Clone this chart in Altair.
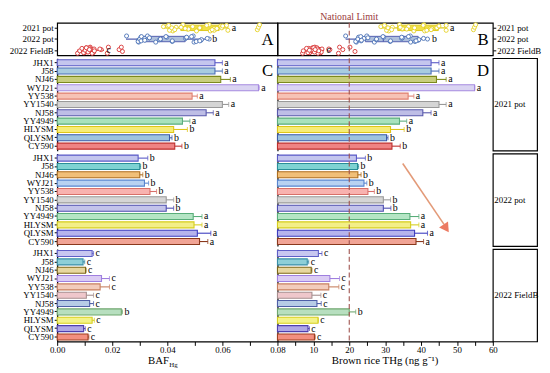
import altair as alt
import pandas as pd

FONT = "Liberation Serif"

cultivars = ["JHX1", "J58", "NJ46", "WYJ21", "YY538", "YY1540", "NJ58", "YY4949", "HLYSM", "QLYSM", "CY590"]
groups = ["2021 pot", "2022 pot", "2022 FieldB"]

# ---- BAF_Hg (panel C): means, mean+SE, letters ----
baf_2021_mean = [0.0573, 0.0573, 0.0594, 0.0731, 0.0490, 0.0600, 0.0541, 0.0455, 0.0423, 0.0408, 0.0427]
baf_2021_top = [0.0600, 0.0600, 0.0629, 0.0734, 0.0509, 0.0623, 0.0567, 0.0482, 0.0473, 0.0417, 0.0453]
baf_2021_sig = ["a", "a", "a", "a", "a", "a", "a", "a", "b", "b", "b"]
baf_2022_mean = [0.0294, 0.0300, 0.0300, 0.0317, 0.0337, 0.0396, 0.0396, 0.0494, 0.0497, 0.0509, 0.0517]
baf_2022_top = [0.0329, 0.0303, 0.0311, 0.0332, 0.0361, 0.0423, 0.0423, 0.0526, 0.0526, 0.0558, 0.0547]
baf_2022_sig = ["b", "b", "b", "b", "b", "b", "b", "a", "a", "a", "a"]
baf_field_mean = [0.0127, 0.0094, 0.0103, 0.0161, 0.0156, 0.0106, 0.0118, 0.0233, 0.0127, 0.0096, 0.0112]
baf_field_top = [0.0132, 0.0100, 0.0105, 0.0190, 0.0190, 0.0132, 0.0132, 0.0237, 0.0135, 0.0102, 0.0115]
baf_field_sig = ["c", "c", "c", "c", "c", "c", "c", "b", "c", "c", "c"]

# ---- Brown rice THg (panel D) ----
thg_2021_mean = [42.8, 42.8, 44.3, 54.9, 36.4, 45.0, 40.5, 34.0, 31.5, 30.4, 31.9]
thg_2021_top = [45.0, 45.0, 47.0, 55.0, 38.0, 47.0, 42.8, 36.0, 35.3, 30.8, 34.2]
thg_2021_sig = ["a", "a", "a", "a", "a", "a", "a", "a", "b", "b", "b"]
thg_2022_mean = [22.0, 22.3, 22.4, 24.1, 25.2, 29.5, 29.5, 36.9, 37.1, 38.2, 38.6]
thg_2022_top = [24.5, 22.6, 23.3, 24.9, 27.0, 31.5, 31.6, 39.4, 39.4, 41.8, 40.7]
thg_2022_sig = ["b", "b", "b", "b", "b", "b", "b", "a", "a", "a", "a"]
thg_field_mean = [11.4, 8.3, 9.4, 14.6, 14.3, 9.6, 11.0, 20.0, 11.3, 8.5, 10.3]
thg_field_top = [12.4, 8.7, 9.6, 17.3, 17.1, 12.1, 12.2, 21.8, 11.4, 8.9, 10.5]
thg_field_sig = ["c", "c", "c", "c", "c", "c", "c", "b", "c", "c", "c"]

# ---- individual replicate values (panels A, B) ----
baf_pts_2021 = [0.0552, 0.0575, 0.0592, 0.0556, 0.0570, 0.0594, 0.0570, 0.0598, 0.0615, 0.0727, 0.0731,
                0.0735, 0.0473, 0.0492, 0.0506, 0.0580, 0.0601, 0.0620, 0.0518, 0.0543, 0.0563, 0.0432,
                0.0457, 0.0477, 0.0386, 0.0420, 0.0465, 0.0400, 0.0408, 0.0416, 0.0405, 0.0427, 0.0450]
baf_pts_2022 = [0.0252, 0.0295, 0.0335, 0.0296, 0.0300, 0.0304, 0.0294, 0.0300, 0.0306, 0.0305, 0.0318,
                0.0328, 0.0318, 0.0335, 0.0358, 0.0372, 0.0398, 0.0418, 0.0375, 0.0395, 0.0418, 0.0466,
                0.0494, 0.0522, 0.0470, 0.0497, 0.0524, 0.0470, 0.0505, 0.0552, 0.0488, 0.0518, 0.0545]
baf_pts_field = [0.0120, 0.0127, 0.0134, 0.0074, 0.0094, 0.0108, 0.0100, 0.0103, 0.0106, 0.0132, 0.0160,
                 0.0186, 0.0128, 0.0155, 0.0182, 0.0082, 0.0105, 0.0130, 0.0105, 0.0118, 0.0131, 0.0225,
                 0.0233, 0.0237, 0.0119, 0.0127, 0.0135, 0.0090, 0.0096, 0.0102, 0.0106, 0.0112, 0.0117]
thg_pts_2021 = [40.8, 42.9, 44.8, 41.0, 42.6, 44.9, 41.6, 44.4, 47.0, 54.6, 54.9, 55.2, 34.8, 36.5, 38.0,
                43.0, 45.0, 47.0, 38.2, 40.6, 42.8, 32.0, 34.0, 36.0, 28.8, 31.0, 34.8, 30.0, 30.4, 30.8,
                29.8, 31.8, 34.2]
thg_pts_2022 = [19.0, 22.2, 24.6, 22.0, 22.3, 22.6, 21.8, 22.4, 23.2, 23.3, 24.1, 24.9, 23.4, 25.2, 27.0,
                27.5, 29.6, 31.4, 27.6, 29.4, 31.5, 34.6, 37.0, 39.2, 34.8, 37.1, 39.4, 34.6, 38.3, 41.8,
                36.5, 38.6, 40.7]
thg_pts_field = [10.4, 11.4, 12.4, 7.0, 8.4, 8.7, 9.0, 9.4, 9.8, 12.0, 14.6, 17.3, 11.6, 14.3, 17.0,
                 7.2, 9.6, 12.0, 9.8, 11.0, 12.2, 18.2, 20.2, 21.6, 11.1, 11.3, 11.5, 8.1, 8.5, 8.9,
                 10.1, 10.3, 10.5]

baf_box_lo = [0.0386, 0.0250, 0.0072]
baf_box_q1 = [0.0449, 0.0315, 0.0095]
baf_box_med = [0.0525, 0.0380, 0.0112]
baf_box_q3 = [0.0588, 0.0465, 0.0133]
baf_box_hi = [0.0622, 0.0552, 0.0170]
baf_box_sig_x = [0.0630, 0.0560, 0.0176]
thg_box_lo = [28.8, 19.0, 7.0]
thg_box_q1 = [33.5, 24.5, 9.0]
thg_box_med = [41.0, 29.5, 10.6]
thg_box_q3 = [44.8, 39.2, 12.3]
thg_box_hi = [47.2, 42.0, 13.0]
thg_box_sig_x = [47.8, 42.8, 13.4]
box_sig = ["a", "b", "c"]
national_limit = [20]

baf_ticks = [0.0, 0.01, 0.02, 0.03, 0.04, 0.05, 0.06, 0.07, 0.08]
thg_ticks = [5, 10, 15, 20, 25, 30, 35, 40, 45, 50, 55, 60]

# ---- colours ----
fill_2021 = ["#C4C6EE", "#A8CCE0", "#C8CE7C", "#DAD4F2", "#F7C2B5", "#D5D5D5", "#BEBEE6", "#A8E2BD", "#F6ED78", "#9DC3DE", "#EF8383"]
line_2021 = ["#5858C6", "#4A6EB8", "#7C8A1C", "#A68AE0", "#DF7F6F", "#999999", "#5858AC", "#5BAD7D", "#DEC618", "#3A5AA8", "#BE2E2C"]
fill_2022 = ["#C4C6EE", "#7ED2D2", "#F1BF78", "#B8D2F2", "#F8B2AF", "#D5D5D5", "#C3C3EA", "#B4E5C4", "#F3EF88", "#B6B4EC", "#F1A495"]
line_2022 = ["#5858C6", "#288E98", "#AE6E1E", "#5885CF", "#D86F69", "#999999", "#4C4CAF", "#58AD79", "#D6CE1E", "#3C3CBF", "#8A381C"]
fill_field = ["#C8C7F0", "#8ECFD7", "#E7D79F", "#DBCCF4", "#F3CCBB", "#EFC7CB", "#B7CCE6", "#B7DFBF", "#F3F389", "#AFA7E6", "#F38F7F"]
line_field = ["#5F5FC7", "#398EA7", "#7F6717", "#9F7FDF", "#C77F5F", "#A78F8F", "#4F5FA7", "#6FA76F", "#D6CE1E", "#4F3FAF", "#9F3F1F"]
grp_pt = ["#E5D020", "#4870B5", "#D83232"]
grp_box_fill = ["#F1E048", "#AFC0DC", "#F4B0B0"]
grp_box_line = ["#DCC81E", "#5560B0", "#D83232"]
limit_color = "#A0524E"

W_L, W_R, W_S = 224, 219, 45
H_TOP, H_F = 33, 94
BORDER = alt.ViewBackground(stroke="black", strokeWidth=1.2)
LBL = "datum.value == 0 ? '2021 pot' : (datum.value == 1 ? '2022 pot' : '2022 FieldB')"


def pts_frame(p21, p22, pf):
    rows = []
    for gi, vals in enumerate([p21, p22, pf]):
        for k, v in enumerate(vals):
            off = (((k * 7) % 11) - 5) * 0.055
            rows.append({"v": v, "yj": gi + off, "pc": grp_pt[gi]})
    return pd.DataFrame(rows)


def box_frame(lo, q1, med, q3, hi, sigx):
    return pd.DataFrame({
        "gi": [0, 1, 2], "lo": lo, "q1": q1, "med": med, "q3": q3, "hi": hi,
        "sig": box_sig, "sigx": sigx, "bf": grp_box_fill, "bl": grp_box_line,
        "y0": [g - 0.24 for g in range(3)], "y1": [g + 0.24 for g in range(3)],
    })


def top_panel(pdf, bdf, domain, width, orient, letter, extra):
    xs = alt.Scale(domain=domain, nice=False, zero=False)
    ys = alt.Scale(domain=[-0.45, 2.45], reverse=True, nice=False, zero=False)
    yax = alt.Axis(values=[0, 1, 2], labelExpr=LBL, orient=orient, title=None, tickSize=3,
                   labelPadding=1, labelFontSize=9, domain=False, grid=False,
                   labelColor="black", tickColor="black")
    whisk = alt.Chart(bdf).mark_rule(strokeWidth=1.2).encode(
        x=alt.X("lo:Q", scale=xs, axis=None), x2="hi:Q",
        y=alt.Y("gi:Q", scale=ys, axis=yax), color=alt.Color("bl:N", scale=None))
    box = alt.Chart(bdf).mark_rect(strokeWidth=1).encode(
        x=alt.X("q1:Q", scale=xs, axis=None), x2="q3:Q",
        y=alt.Y("y0:Q", scale=ys, axis=yax), y2="y1:Q",
        fill=alt.Fill("bf:N", scale=None), stroke=alt.Stroke("bl:N", scale=None))
    medl = alt.Chart(bdf).mark_rule(strokeWidth=1.2).encode(
        x=alt.X("med:Q", scale=xs, axis=None),
        y=alt.Y("y0:Q", scale=ys, axis=yax), y2="y1:Q", color=alt.Color("bl:N", scale=None))
    pts = alt.Chart(pdf).mark_point(shape="circle", filled=True, size=17, strokeWidth=0.9, opacity=1).encode(
        x=alt.X("v:Q", scale=xs, axis=None), y=alt.Y("yj:Q", scale=ys, axis=yax),
        fill=alt.value("white"), stroke=alt.Stroke("pc:N", scale=None))
    txt = alt.Chart(bdf).mark_text(align="left", baseline="middle", dx=1, fontSize=10, color="black").encode(
        x=alt.X("sigx:Q", scale=xs, axis=None), y=alt.Y("gi:Q", scale=ys, axis=yax), text="sig:N")
    let = alt.Chart(pd.DataFrame({"t": [letter]})).mark_text(
        fontSize=17, align="center", baseline="middle", color="black").encode(
        text="t:N", x=alt.value(width - 10), y=alt.value(H_TOP / 2 + 1))
    layers = [whisk, box, medl, pts, txt, let] + [e(xs) for e in extra]
    return alt.layer(*layers).properties(width=width, height=H_TOP, view=BORDER)


def bar_panel(mean, top, sig, fills, lines, domain, width, left, xaxis, extra):
    df = pd.DataFrame({"c": cultivars, "m": mean, "t": top, "s": sig, "f": fills, "k": lines})
    xs = alt.Scale(domain=domain, nice=False, zero=True)
    ys = alt.Scale(domain=cultivars, paddingInner=0.28, paddingOuter=0.18)
    if left:
        yax = alt.Axis(title=None, tickSize=3, labelPadding=1, labelFontSize=9,
                       domainColor="black", domainWidth=1.2, tickColor="black", labelColor="black")
    else:
        yax = alt.Axis(title=None, labels=False, ticks=False, domainColor="black", domainWidth=1.2)
    Y = alt.Y("c:N", scale=ys, axis=yax, sort=cultivars)
    bars = alt.Chart(df).mark_bar(strokeWidth=1.1).encode(
        x=alt.X("m:Q", scale=xs, axis=xaxis), y=Y,
        fill=alt.Fill("f:N", scale=None), stroke=alt.Stroke("k:N", scale=None))
    err = alt.Chart(df).mark_rule(strokeWidth=1.1).encode(
        x=alt.X("m:Q", scale=xs, axis=xaxis), x2="t:Q", y=Y, color=alt.Color("k:N", scale=None))
    cap = alt.Chart(df).mark_tick(thickness=1.1, size=5).encode(
        x=alt.X("t:Q", scale=xs, axis=xaxis), y=Y, color=alt.Color("k:N", scale=None))
    txt = alt.Chart(df).mark_text(align="left", baseline="middle", dx=2, fontSize=10, color="black").encode(
        x=alt.X("t:Q", scale=xs, axis=xaxis), y=Y, text="s:N")
    layers = [bars, err, cap, txt] + [e(xs, xaxis) for e in extra]
    return alt.layer(*layers).properties(width=width, height=H_F)


def letter_layer(letter, width):
    def f(xs, xaxis=None):
        return alt.Chart(pd.DataFrame({"t": [letter]})).mark_text(
            fontSize=17, align="center", baseline="middle", color="black").encode(
            text="t:N", x=alt.value(width - 10), y=alt.value(13))
    return f


def limit_layer(xs, xaxis=None):
    return alt.Chart(pd.DataFrame({"nl": national_limit})).mark_rule(
        strokeDash=[5, 3], strokeWidth=1.1, color=limit_color).encode(
        x=alt.X("nl:Q", scale=xs, axis=xaxis))


def limit_text(xs, xaxis=None):
    return alt.Chart(pd.DataFrame({"nl": national_limit, "t": ["National Limit"]})).mark_text(
        baseline="bottom", align="center", fontSize=10, color="#9A3B3B", dy=-1).encode(
        x=alt.X("nl:Q", scale=xs, axis=None), y=alt.value(0), text="t:N")


arrow_x = [34.9]
arrow_x2 = [46.4]
arrow_head = [47.0]


def arrow_line(xs, xaxis=None):
    return alt.Chart(pd.DataFrame({"a": arrow_x, "b": arrow_x2})).mark_rule(
        strokeWidth=1.6, color="#E39A78").encode(
        x=alt.X("a:Q", scale=xs, axis=xaxis), x2="b:Q", y=alt.value(10), y2=alt.value(72))


def arrow_tip(xs, xaxis=None):
    return alt.Chart(pd.DataFrame({"h": arrow_head})).mark_point(
        shape="triangle-right", filled=True, size=120, angle=56, color="#EC7A62", opacity=1).encode(
        x=alt.X("h:Q", scale=xs, axis=xaxis), y=alt.value(76))


def title_layers(parts, width):
    def f(xs, xaxis=None):
        out = []
        for txt, dx, dy, size, align in parts:
            out.append(alt.Chart(pd.DataFrame({"t": [txt]})).mark_text(
                fontSize=size, align=align, baseline="alphabetic", color="black").encode(
                text="t:N", x=alt.value(width / 2 + dx), y=alt.value(H_F + 23 + dy)))
        return alt.layer(*out)
    return f


def strip(label):
    return alt.Chart(pd.DataFrame({"g": [label]})).mark_text(
        align="left", baseline="middle", fontSize=9, color="black").encode(
        text="g:N", x=alt.value(1.5), y=alt.value(H_F / 2)).properties(width=W_S, height=H_F, view=BORDER)


def blank():
    return alt.Chart(pd.DataFrame({"g": [""]})).mark_text().encode(
        text="g:N", x=alt.value(0), y=alt.value(0)).properties(width=W_S, height=H_TOP)


ax_baf = alt.Axis(values=baf_ticks, title=None, grid=False, tickSize=4, labelFontSize=9, labelPadding=0,
                  labelExpr="round(datum.value * 100) % 2 == 0 ? format(datum.value, '.2f') : ''",
                  labelFlush=False, labelOverlap=False, domainColor="black", domainWidth=1.2,
                  tickColor="black", labelColor="black")
ax_thg = alt.Axis(values=thg_ticks, title=None, grid=False, tickSize=4, labelFontSize=9, labelPadding=0,
                  labelExpr="datum.value % 10 == 0 ? format(datum.value, 'd') : ''",
                  labelFlush=False, labelOverlap=False, domainColor="black", domainWidth=1.2,
                  tickColor="black", labelColor="black")

panel_a = top_panel(pts_frame(baf_pts_2021, baf_pts_2022, baf_pts_field),
                    box_frame(baf_box_lo, baf_box_q1, baf_box_med, baf_box_q3, baf_box_hi, baf_box_sig_x),
                    [0, 0.08], W_L, "left", "A", [])
panel_b = top_panel(pts_frame(thg_pts_2021, thg_pts_2022, thg_pts_field),
                    box_frame(thg_box_lo, thg_box_q1, thg_box_med, thg_box_q3, thg_box_hi, thg_box_sig_x),
                    [0, 60], W_R, "right", "B", [limit_layer, limit_text])

c1 = bar_panel(baf_2021_mean, baf_2021_top, baf_2021_sig, fill_2021, line_2021, [0, 0.08], W_L, True, None,
               [letter_layer("C", W_L)])
d1 = bar_panel(thg_2021_mean, thg_2021_top, thg_2021_sig, fill_2021, line_2021, [0, 60], W_R, False, None,
               [limit_layer, letter_layer("D", W_R)])
c2 = bar_panel(baf_2022_mean, baf_2022_top, baf_2022_sig, fill_2022, line_2022, [0, 0.08], W_L, True, None, [])
d2 = bar_panel(thg_2022_mean, thg_2022_top, thg_2022_sig, fill_2022, line_2022, [0, 60], W_R, False, None,
               [limit_layer, arrow_line, arrow_tip])
c3 = bar_panel(baf_field_mean, baf_field_top, baf_field_sig, fill_field, line_field, [0, 0.08], W_L, True, ax_baf,
               [title_layers([("BAF", -9, 0, 11, "center"), ("Hg", 2, 3, 7, "left")], W_L)])
d3 = bar_panel(thg_field_mean, thg_field_top, thg_field_sig, fill_field, line_field, [0, 60], W_R, False, ax_thg,
               [limit_layer, title_layers([("Brown rice THg (ng g\u207b\u00b9)", 0, 0, 11, "center")], W_R)])

chart = alt.concat(
    panel_a, panel_b, blank(),
    c1, d1, strip(groups[0]),
    c2, d2, strip(groups[1]),
    c3, d3, strip(groups[2]),
    columns=3, align="each", bounds="flush", spacing={"row": 3, "column": 0},
).properties(
    padding={"left": 0, "top": 0, "right": 0, "bottom": 0}
).configure(font=FONT).configure_view(stroke="transparent").configure_axis(
    labelFont=FONT, titleFont=FONT, grid=False
).configure_text(font=FONT)

chart.save("out.html", embed_options={"renderer": "svg", "actions": False})
